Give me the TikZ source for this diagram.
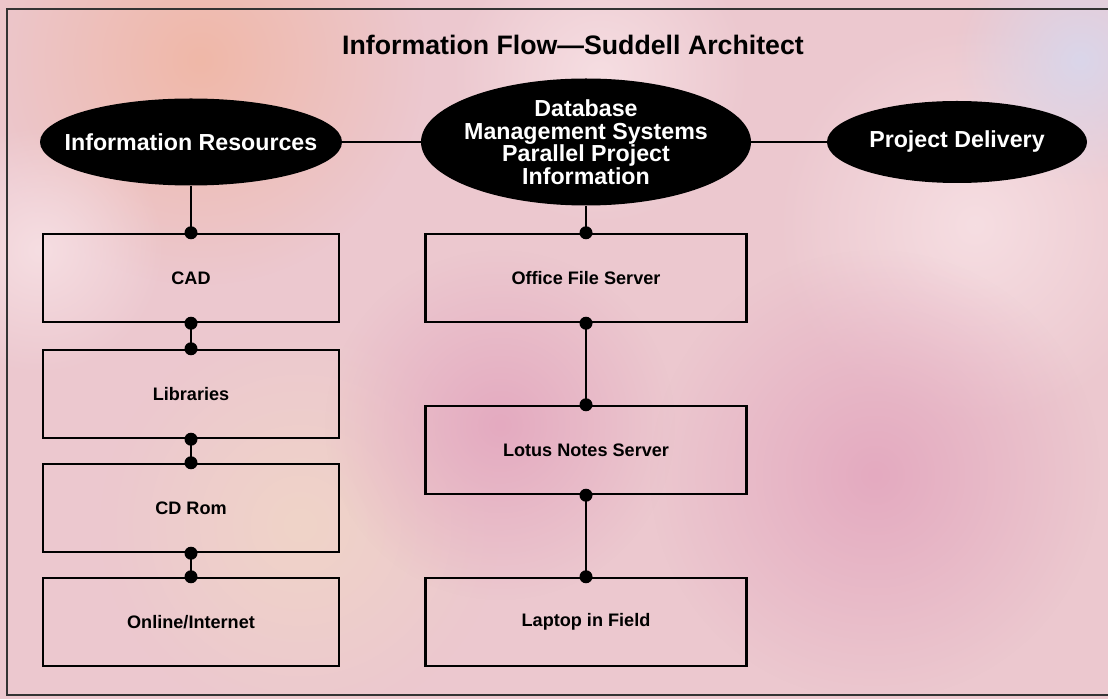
\documentclass[tikz,border=0pt]{standalone}
\usepackage{fontspec}
\setmainfont{Liberation Sans}
\usepackage{tikz}
\usetikzlibrary{shapes.geometric,fadings}
\tikzfading[name=blobfade, inner color=transparent!0, outer color=transparent!100]
\definecolor{bgpink}{RGB}{236,200,207}
\definecolor{peach}{RGB}{240,184,168}
\definecolor{palepink}{RGB}{246,222,226}
\definecolor{rosepink}{RGB}{228,170,192}
\definecolor{lavender}{RGB}{218,214,234}
\definecolor{sandpink}{RGB}{240,212,200}

\begin{document}
\begin{tikzpicture}[
    box/.style={rectangle, draw, line width=1.4pt, minimum width=5.92cm, minimum height=1.76cm, align=center, font=\bfseries\fontsize{10.3}{12}\selectfont},
    widebox/.style={box, minimum width=6.42cm},
    oval/.style={ellipse, fill=black, inner xsep=-0.6cm, inner ysep=-0.2cm, text=white, align=center, font=\bfseries\fontsize{13.2}{12.8}\selectfont},
    link/.style={line width=1.6pt},
    blob/.style={path fading=blobfade}
]
\useasboundingbox (0,0) rectangle (22.16,-13.98);

% background
\fill[bgpink] (0,0) rectangle (22.16,-13.98);
\fill[blob, peach] (4,-1.2) circle (4.5);
\fill[blob, palepink] (19.5,-4.5) circle (4);
\fill[blob, lavender] (21.6,-1.2) circle (2.5);
\fill[blob, rosepink] (17.5,-9.5) circle (4.5);
\fill[blob, sandpink] (6,-10.5) circle (4);
\fill[blob, palepink] (0.8,-5) circle (2.5);
\fill[blob, rosepink] (10,-8.5) circle (3.5);
\fill[blob, palepink] (12,-1.5) circle (3);
\draw[line width=0.6pt, black!80] (22.4,-0.18) -- (0.14,-0.18) -- (0.14,-13.9) -- (22.4,-13.9);

\node[font=\bfseries\fontsize{15.2}{18}\selectfont] (title) at (11.46,-0.9) {Information Flow—Suddell Architect};

\node[oval, minimum width=6.04cm, minimum height=1.74cm] (res) at (3.82,-2.84) {Information Resources};
\node[oval, minimum width=6.6cm, minimum height=2.54cm] (dbms) at (11.72,-2.84) {Database\\Management Systems\\Parallel Project\\Information};
\node[oval, minimum width=5.2cm, minimum height=1.64cm] (deliv) at (19.14,-2.84) {Project Delivery};

\node[box] (cad) at (3.82,-5.56) {CAD};
\node[box] (lib) at (3.82,-7.88) {Libraries};
\node[box] (cdrom) at (3.82,-10.16) {CD Rom};
\node[box] (web) at (3.82,-12.44) {Online/Internet};

\node[widebox] (office) at (11.72,-5.56) {Office File Server};
\node[widebox] (lotus) at (11.72,-9.0) {Lotus Notes Server};
\node[widebox] (laptop) at (11.72,-12.44) {Laptop in Field};

\draw[link] (res) -- (dbms);
\draw[link] (dbms) -- (deliv);
\draw[link] (res.south) -- (cad.north);
\draw[link] (cad) -- (lib);
\draw[link] (lib) -- (cdrom);
\draw[link] (cdrom) -- (web);
\draw[link] (dbms.south) -- (office.north);
\draw[link] (office) -- (lotus);
\draw[link] (lotus) -- (laptop);

\foreach \p in {cad.north, cad.south, lib.north, lib.south, cdrom.north, cdrom.south, web.north,
    office.north, office.south, lotus.north, lotus.south, laptop.north}
    \fill (\p) circle (0.13);

\end{tikzpicture}
\end{document}
